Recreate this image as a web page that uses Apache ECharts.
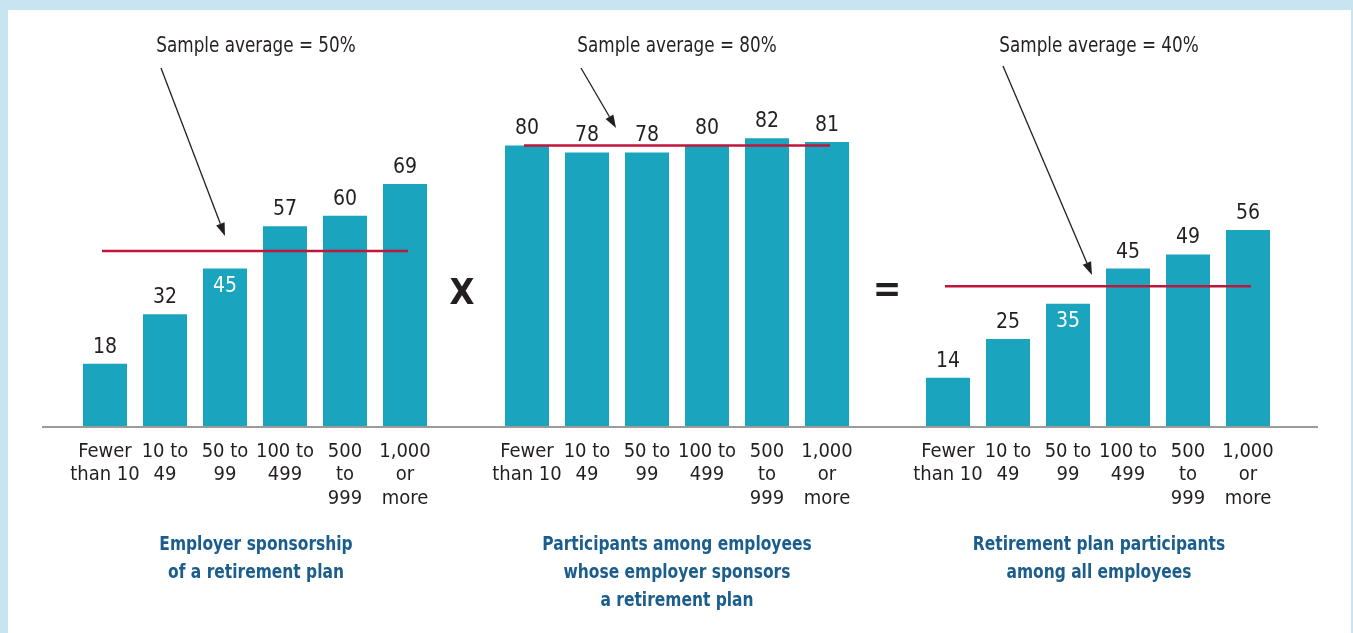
<!DOCTYPE html>
<html>
<head>
<meta charset="utf-8">
<script src="https://cdn.jsdelivr.net/npm/echarts@6/dist/echarts.min.js"></script>
<style>
  html, body { margin: 0; padding: 0; background: #c8e4f0; }
  #paper { position: absolute; left: 8px; top: 10px; right: 2px; bottom: 0; background: #fff; }
  #chart { position: absolute; left: 0; top: 0; width: 1353px; height: 633px; }
</style>
</head>
<body>
<div id="paper"></div>
<div id="chart"></div>
<script>
  // data
  const categories = ['Fewer\nthan 10', '10 to\n49', '50 to\n99', '100 to\n499', '500\nto\n999', '1,000\nor\nmore'];
  const sponsorship = [18, 32, 45, 57, 60, 69];
  const participation = [80, 78, 78, 80, 82, 81];
  const coverage = [14, 25, 35, 45, 49, 56];
  const averages = [50, 80, 40];
  const avgLabels = ['Sample average = 50%', 'Sample average = 80%', 'Sample average = 40%'];
  const panelTitles = [
    'Employer sponsorship\nof a retirement plan',
    'Participants among employees\nwhose employer sponsors\na retirement plan',
    'Retirement plan participants\namong all employees'
  ];
  const whiteLabelAt = [2, -1, 2];

  const FONT = "'DejaVu Sans Condensed', 'Liberation Sans Narrow', 'Liberation Sans', sans-serif";
  const BAR = '#1aa4bd';
  const RED = '#c1163b';
  const INK = '#231f20';
  const BLUE = '#1b5d8c';

  const panels = [sponsorship, participation, coverage];
  const gridLeft = [75, 497, 918];
  const gridW = 360;
  const gridTop = 75;
  const gridH = 352;

  const grid = [], xAxis = [], yAxis = [], series = [];

  panels.forEach(function (vals, p) {
    grid.push({ left: gridLeft[p], top: gridTop, width: gridW, height: gridH });
    xAxis.push({
      type: 'category', gridIndex: p, data: categories,
      axisLine: { show: false }, axisTick: { show: false },
      axisLabel: { margin: 13, color: INK, fontFamily: FONT, fontSize: 20, lineHeight: 23.5, interval: 0 }
    });
    xAxis.push({ type: 'value', gridIndex: p, min: 0, max: 6, show: false });
    yAxis.push({ type: 'value', gridIndex: p, min: 0, max: 100, show: false });

    series.push({
      type: 'bar', xAxisIndex: p * 2, yAxisIndex: p, barWidth: 44,
      itemStyle: { color: BAR },
      label: { show: true, position: 'top', distance: 6, color: INK, fontFamily: FONT, fontSize: 21 },
      data: vals.map(function (v, i) {
        if (i === whiteLabelAt[p]) {
          return { value: v, label: { position: 'insideTop', distance: 7, color: '#fff' } };
        }
        return v;
      }),
      silent: true
    });
    series.push({
      type: 'line', xAxisIndex: p * 2 + 1, yAxisIndex: p, z: 5,
      symbol: 'none', silent: true,
      lineStyle: { color: RED, width: 2.5 },
      data: [[0.45, averages[p]], [5.55, averages[p]]]
    });
  });

  function arrow(x1, y1, x2, y2) {
    const a = Math.atan2(y2 - y1, x2 - x1);
    const len = 13, half = 4.5;
    const bx = x2 - len * Math.cos(a), by = y2 - len * Math.sin(a);
    const px = -Math.sin(a) * half, py = Math.cos(a) * half;
    return [
      { type: 'line', shape: { x1: x1, y1: y1, x2: bx, y2: by }, style: { stroke: INK, lineWidth: 1.3 } },
      { type: 'polygon', shape: { points: [[x2, y2], [bx + px, by + py], [bx - px, by - py]] }, style: { fill: INK } }
    ];
  }

  const graphic = [
    { type: 'line', z: 10, shape: { x1: 42, y1: 427, x2: 1318, y2: 427 }, style: { stroke: '#9b9b9b', lineWidth: 2 } },
    { type: 'text', x: 462, y: 295, style: { text: 'X', font: "bold 36px " + FONT, fill: INK, align: 'center', verticalAlign: 'middle' } },
    { type: 'text', x: 887, y: 291, style: { text: '=', font: "bold 38px " + FONT, fill: INK, align: 'center', verticalAlign: 'middle' } }
  ];
  const centers = [256, 677, 1099];
  const arrows = [[161, 68, 225, 236], [581, 68, 616, 128], [1003, 66, 1092, 275]];
  centers.forEach(function (cx, p) {
    graphic.push({ type: 'text', x: cx, y: 47, scaleX: 0.89, style: { text: avgLabels[p], font: "21px " + FONT, fill: INK, align: 'center', verticalAlign: 'middle' } });
    graphic.push({ type: 'text', x: cx, y: 531, scaleX: 0.86, style: { text: panelTitles[p], font: "bold 20px " + FONT, lineHeight: 28, fill: BLUE, align: 'center', verticalAlign: 'top' } });
    arrow.apply(null, arrows[p]).forEach(function (g) { graphic.push(g); });
  });

  const chart = echarts.init(document.getElementById('chart'), null, { renderer: 'canvas' });
  chart.setOption({
    animation: false,
    backgroundColor: 'transparent',
    grid: grid,
    xAxis: xAxis,
    yAxis: yAxis,
    series: series,
    graphic: graphic
  });
</script>
</body>
</html>
